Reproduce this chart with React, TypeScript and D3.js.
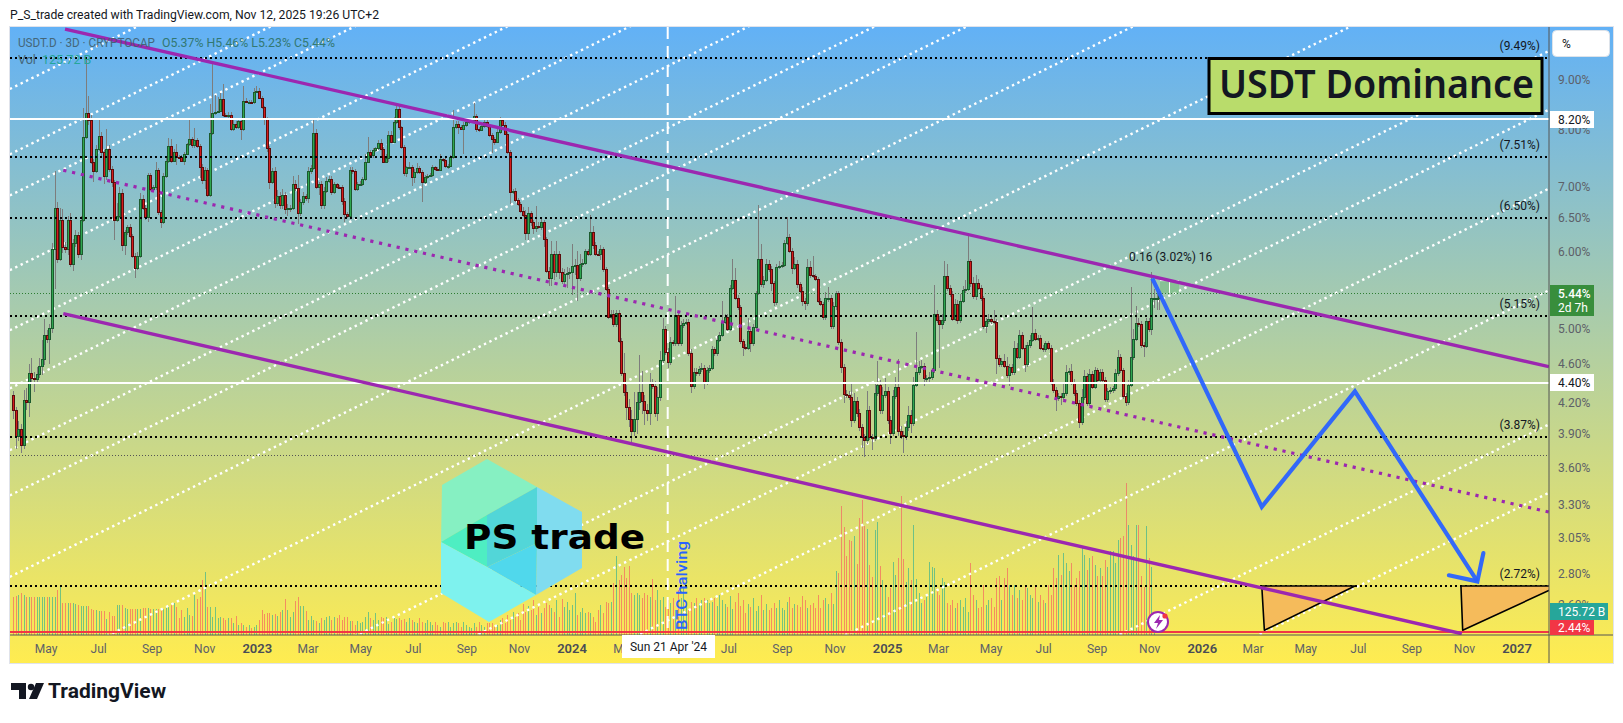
import React from "react";
import * as d3 from "d3";

const lastBarDate = "2025-11-12";
const firstOpen = 4.27;
const closes = [
4.12,3.88,3.94,3.80,4.22,4.20,4.50,4.45,4.44,4.49,
4.58,4.65,4.92,4.88,5.01,6.04,6.65,5.90,6.47,6.06,
6.03,6.47,5.83,6.12,6.24,5.96,6.47,7.87,8.32,8.18,
7.42,7.26,7.64,7.89,7.59,7.18,7.64,7.30,7.07,6.47,
6.53,6.89,6.09,6.28,6.35,6.22,5.94,5.77,5.94,6.79,
6.65,6.51,7.19,6.96,6.98,7.27,6.58,6.44,7.18,7.44,
7.70,7.44,7.60,7.51,7.50,7.44,7.56,7.73,7.82,7.71,
7.81,7.70,7.32,7.10,7.28,6.86,7.94,8.32,8.35,8.37,
8.61,8.28,8.27,8.29,8.01,8.12,8.05,8.16,8.01,8.56,
8.55,8.55,8.54,8.75,8.77,8.63,8.44,8.22,7.67,7.07,
7.25,6.73,6.84,6.69,6.85,6.63,6.65,6.65,7.03,6.97,
6.57,6.74,6.84,6.81,7.25,7.31,7.94,6.99,7.04,6.70,
6.93,7.09,7.12,6.91,7.03,6.99,6.98,6.76,6.55,6.53,
7.28,7.25,6.96,7.03,7.04,7.12,7.42,7.59,7.53,7.63,
7.66,7.76,7.64,7.42,7.48,7.90,7.78,8.14,8.41,8.05,
7.68,7.22,7.32,7.33,7.16,7.24,7.31,7.24,7.07,7.15,
7.18,7.19,7.32,7.29,7.28,7.46,7.45,7.35,7.35,7.50,
8.05,8.11,8.06,8.02,8.09,8.14,8.16,8.18,8.27,8.01,
8.00,8.07,8.14,8.07,7.90,7.82,7.78,7.96,8.18,8.10,
7.93,7.59,6.90,6.93,6.77,6.71,6.60,6.54,6.27,6.57,
6.43,6.34,6.37,6.36,6.43,6.18,5.73,5.63,5.97,5.71,
5.97,5.72,5.59,5.69,5.70,5.71,5.80,5.81,5.64,5.83,
5.84,6.00,5.97,6.29,6.09,5.97,5.96,6.03,5.75,5.49,
5.14,5.18,5.05,5.19,4.86,4.50,4.30,4.15,4.04,3.92,
4.04,4.20,4.30,4.21,4.12,4.10,4.39,4.37,4.10,4.25,
4.64,5.00,4.73,4.62,4.84,4.83,5.16,4.83,5.04,5.07,
5.08,4.72,4.37,4.51,4.50,4.54,4.55,4.41,4.53,4.56,
4.76,4.72,4.87,4.93,5.08,5.14,5.00,5.51,5.61,5.38,
5.26,4.85,4.79,4.78,4.97,4.83,5.02,5.44,5.90,5.56,
5.61,5.83,5.76,5.57,5.32,5.79,5.80,5.81,6.12,6.21,
6.01,5.77,5.82,5.55,5.47,5.34,5.31,5.79,5.67,5.66,
5.62,5.34,5.30,5.14,5.37,5.38,5.03,5.27,5.44,4.84,
4.57,4.28,4.27,4.25,4.03,4.21,4.10,3.96,3.87,3.84,
4.12,3.87,3.86,4.29,4.38,4.12,4.27,4.31,4.03,3.91,
4.26,4.36,3.92,3.89,3.88,3.96,4.08,4.00,4.38,4.51,
4.57,4.58,4.45,4.45,4.46,4.53,5.17,5.10,5.05,5.10,
5.66,5.50,5.42,5.12,5.30,5.10,5.34,5.48,5.49,5.87,
5.57,5.40,5.57,5.51,5.37,5.03,5.09,5.12,5.09,5.08,
4.66,4.60,4.63,4.58,4.48,4.57,4.51,4.78,4.68,4.93,
4.78,4.60,4.81,4.87,4.95,4.88,4.89,4.78,4.76,4.83,
4.78,4.41,4.32,4.24,4.26,4.25,4.29,4.51,4.52,4.41,
4.29,4.19,4.01,4.25,4.47,4.19,4.49,4.36,4.53,4.43,
4.51,4.43,4.23,4.31,4.32,4.34,4.50,4.67,4.53,4.26,
4.20,4.38,4.67,4.88,5.07,5.05,4.81,4.80,5.09,4.99,
5.37,5.37,5.37,5.44];
// wick lengths in hundredths of a percentage point
const upWicks = [
4,3,8,5,10,12,10,16,6,8,8,22,20,6,5,8,60,10,18,16,8,6,10,6,8,4,6,55,115,35,
10,4,8,30,6,4,38,8,4,4,20,10,6,4,4,6,4,4,5,10,6,4,4,4,4,14,4,4,4,6,
14,12,4,14,3,3,4,3,36,4,22,4,3,6,4,3,56,106,33,28,12,30,5,6,6,6,4,5,6,32,
6,4,4,8,10,6,4,3,3,3,6,8,10,6,11,6,6,4,15,8,22,6,6,4,8,6,25,8,3,5,
6,6,5,6,4,3,3,4,5,3,4,4,4,4,4,4,14,28,4,4,3,5,6,4,8,8,8,10,12,6,
3,3,3,8,4,5,8,4,4,4,3,3,4,3,3,10,3,3,3,4,34,6,5,4,6,3,3,3,26,4,
4,4,4,4,4,4,4,5,6,4,4,3,3,3,4,4,3,6,8,10,3,4,31,6,6,4,3,6,18,4,
18,4,5,6,8,6,31,9,19,14,6,4,3,25,8,4,3,6,3,3,3,4,4,4,3,3,22,8,8,8,
26,10,40,22,6,6,11,5,5,10,10,13,3,4,6,3,24,4,5,4,3,3,4,5,4,4,6,4,4,3,
4,3,4,3,26,3,4,3,28,16,3,3,3,3,16,3,3,3,79,20,5,6,5,4,3,3,6,4,5,30,
4,4,10,6,3,5,3,11,8,27,3,3,3,3,8,14,3,5,3,3,4,3,4,4,14,8,4,3,3,3,
19,4,3,10,25,5,8,14,5,4,6,10,29,5,3,6,8,4,8,45,6,6,3,3,5,3,37,5,5,8,
20,17,4,4,6,5,8,5,12,40,3,8,10,5,3,3,4,5,3,14,3,4,3,8,10,3,3,8,5,5,
3,3,3,5,31,5,3,3,3,3,3,3,3,3,3,3,10,8,4,8,3,3,3,8,6,3,5,3,4,3,
3,3,3,3,3,3,4,8,4,3,3,5,85,12,20,6,4,3,4,4,35,12,10,2];
const downWicks = [
8,12,5,7,4,8,14,5,14,4,4,10,6,5,28,6,55,6,4,8,5,8,4,10,6,5,8,4,4,8,
4,19,4,3,8,14,8,6,8,30,4,3,8,14,4,3,3,14,3,3,3,5,8,3,5,4,4,9,4,4,
4,4,3,14,3,3,8,3,3,5,4,3,18,6,14,4,3,3,3,3,3,3,3,4,4,3,3,3,20,3,
3,3,3,3,3,3,3,12,8,12,4,8,5,6,6,8,10,6,3,5,17,4,4,5,8,4,3,4,14,6,
6,4,3,5,3,3,3,6,12,3,3,4,4,3,3,3,3,3,5,4,3,3,13,3,3,6,3,3,3,6,
3,4,6,3,16,10,3,3,32,3,3,3,3,3,3,3,3,4,5,3,3,3,14,3,46,3,3,3,3,6,
4,3,3,3,3,25,6,3,3,3,3,3,18,3,3,3,3,3,10,10,5,8,6,3,4,12,3,10,10,10,
6,10,4,7,18,8,30,12,30,5,4,3,3,3,6,4,3,8,3,3,3,3,3,3,3,3,4,12,8,12,
4,14,8,12,14,8,12,4,4,8,4,3,3,6,3,3,3,3,3,3,3,3,8,4,3,3,3,8,3,3,
3,3,3,3,3,3,3,3,3,3,3,3,10,3,3,10,3,3,3,4,6,3,4,10,5,3,3,3,3,3,
3,8,3,4,3,6,8,3,3,3,3,3,3,4,4,5,4,3,4,3,7,9,3,3,7,3,4,4,10,15,
3,3,11,3,3,3,3,3,4,10,3,3,4,4,15,4,4,9,3,3,3,3,8,5,4,3,3,3,50,5,
3,4,3,3,3,4,3,3,4,3,5,4,5,3,3,3,8,3,3,3,17,3,3,3,3,11,3,3,3,3,
3,9,3,3,3,3,3,3,3,3,3,3,3,13,3,8,3,3,3,3,3,3,6,3,3,3,3,3,3,3,
3,3,3,3,3,3,3,3,3,3,4,3,3,3,3,3,4,12,3,3,6,12,14,14];
// volume in billions
const volumes = [
209,215,218,228,218,209,209,206,206,206,206,206,206,206,206,206,206,246,273,177,
177,173,173,173,169,164,160,160,160,160,142,136,136,133,133,133,87,127,104,104,
164,164,164,146,140,140,142,142,142,142,146,146,146,142,142,142,142,142,142,146,
155,164,173,155,91,136,100,146,109,104,218,195,209,297,342,155,155,96,155,91,
100,91,82,91,91,67,104,55,64,55,42,55,36,42,55,82,136,115,118,122,
109,115,104,127,136,198,136,100,127,185,209,160,160,133,82,104,82,75,64,91,
80,100,104,82,100,91,109,82,100,100,75,75,55,75,64,73,100,127,90,80,
120,80,100,91,100,60,70,95,85,91,80,85,73,91,82,73,64,91,73,64,82,
73,55,73,55,45,73,64,73,45,64,73,64,45,73,55,45,36,64,45,73,55,45,64,64,
64,45,55,82,91,64,109,82,127,100,118,82,169,127,160,136,191,109,155,118,146,
173,164,149,127,191,100,195,155,182,136,164,227,109,127,146,118,127,118,100,73,136,164,118,
182,173,182,282,431,300,328,373,309,377,
227,218,227,218,200,227,218,209,306,191,246,191,209,155,191,173,200,136,246,200,255,173,136,182,173,200,173,191,200,191,173,
180,200,160,220,190,170,150,210,140,180,230,160,190,120,170,150,200,130,160,
218,136,169,136,146,173,146,191,146,136,182,209,146,169,164,155,213,191,146,164,173,146,218,146,191,200,169,228,169,
346,337,704,588,431,519,510,541,388,637,737,592,577,382,
315,570,613,377,300,273,209,255,400,328,422,759,415,291,364,300,601,304,228,173,
191,218,400,369,364,237,218,309,291,173,164,191,146,173,191,155,200,127,391,218,
191,146,155,273,164,191,200,155,309,319,191,309,364,273,218,273,200,246,191,273,
255,218,200,264,182,218,191,173,273,218,364,309,437,328,446,391,349,391,273,309,
349,473,437,355,419,428,382,319,364,319,410,373,455,455,391,519,528,541,
828,601,491,428,601,601,320,260,595,419,373,125.72];

const priceTicks = [9, 8, 7, 6.5, 6, 5, 4.6, 4.2, 3.9, 3.6, 3.3, 3.05, 2.8, 2.6];
const monthTicks = [
  ["2022-05-01","May"],["2022-07-01","Jul"],["2022-09-01","Sep"],["2022-11-01","Nov"],["2023-01-01","2023"],
  ["2023-03-01","Mar"],["2023-05-01","May"],["2023-07-01","Jul"],["2023-09-01","Sep"],["2023-11-01","Nov"],["2024-01-01","2024"],
  ["2024-03-01","Mar"],["2024-07-01","Jul"],["2024-09-01","Sep"],["2024-11-01","Nov"],["2025-01-01","2025"],
  ["2025-03-01","Mar"],["2025-05-01","May"],["2025-07-01","Jul"],["2025-09-01","Sep"],["2025-11-01","Nov"],["2026-01-01","2026"],
  ["2026-03-01","Mar"],["2026-05-01","May"],["2026-07-01","Jul"],["2026-09-01","Sep"],["2026-11-01","Nov"],["2027-01-01","2027"],
];
const dottedLevels = [9.49, 7.51, 6.5, 5.15, 3.87, 2.72];
const solidLevels = [8.2, 4.4];
const supportLevel = 2.44;
const priceLines = [5.44, 3.71];
const upperChannel = [["2022-05-23", 10.15], ["2027-02-07", 4.57]];
const middleChannel = [["2022-05-21", 7.27], ["2027-02-07", 3.24]];
const lowerChannel = [["2022-05-21", 5.18], ["2026-10-29", 2.43]];
const forecastPath = [["2025-11-04", 5.63], ["2026-03-11", 3.28], ["2026-06-27", 4.31], ["2026-11-16", 2.75]];
const arrowHead = [["2026-10-14", 2.79], ["2026-11-16", 2.75], ["2026-11-23", 2.94]];
const triangleA = [["2026-03-11", 2.72], ["2026-03-14", 2.45], ["2026-06-27", 2.72]];
const triangleB = [["2026-10-28", 2.72], ["2026-10-30", 2.45], ["2027-02-18", 2.72]];
const diagonalStartDate = "2022-03-20";
const diagonalEndDate = "2027-02-07";
const diagonalStartPrices = [8.81, 7.55, 6.85, 5.74, 4.98, 4.34, 3.75, 3.37, 2.78, 2.16, 1.62, 1.41, 1.17, 0.92, 0.67, 0.57];
const diagonalRise = 5.95;
const halvingDate = "2024-04-21";
const measureBox = [["2025-11-13", 5.6], ["2025-12-05", 5.44]];

const D = (s: string) => new Date(s + "T00:00:00Z");
const L = 10, R = 1549, T = 27, B = 635, PANEL_B = 663, W = 1623, H = 723;
const x = d3.scaleUtc().domain([D("2024-01-01"), D("2027-01-01")]).range([572, 1517]);
const y = d3.scaleLog().domain([2.44, 9]).range([632, 80]);
const vy = d3.scaleLinear().domain([0, 828]).range([B, 483]);
const pt = (p: any) => [x(D(p[0])), y(p[1])] as [number, number];
const lineGen = d3.line();
const path = (pts: any[]) => lineGen(pts.map(pt)) as string;
const polygon = (pts: any[]) => (lineGen(pts.map(pt)) as string) + "Z";

const N = closes.length;
const bars = closes.map((c, i) => {
  const o = i === 0 ? firstOpen : closes[i - 1];
  const date = new Date(D(lastBarDate).getTime() - (N - 1 - i) * 3 * 864e5);
  return { date, px: Math.round(x(date)), o, c, h: Math.max(o, c) + (upWicks[i] ?? 3) / 100, l: Math.min(o, c) - (downWicks[i] ?? 3) / 100, v: volumes[i] ?? 0 };
});

const font = "Roboto, 'Noto Sans', sans-serif";
const axisLabel = "#5d6068";
const crisp = { shapeRendering: "crispEdges" } as any;

const BoxLabel = ({ yy, h, w = 44, fill, color, text }: any) => (
  <g>
    <rect x={R + 1} y={yy} width={w} height={h} fill={fill} />
    <text x={R + 9} y={yy + h / 2 + 4.3} fontSize={12} fill={color} fontFamily={font}>{text}</text>
  </g>
);

export default function App() {
  return (
    <svg width={W} height={H} viewBox={`0 0 ${W} ${H}`} style={{ position: "absolute", left: 0, top: 0, background: "#fff" }}>
      <defs>
        <linearGradient id="bg" x1="0" y1="0" x2="0" y2="1">
          <stop offset="0" stopColor="#62b1f6" />
          <stop offset="1" stopColor="#ffec50" />
        </linearGradient>
        <clipPath id="plot"><rect x={L} y={T} width={R - L} height={B - T} /></clipPath>
      </defs>
      <text x={10} y={19} fontSize={12.5} fill="#131722" fontFamily={font} textLength={369} lengthAdjust="spacingAndGlyphs">P_S_trade created with TradingView.com, Nov 12, 2025 19:26 UTC+2</text>
      <rect x={9.5} y={26.5} width={1604} height={637} fill="url(#bg)" stroke="#e0e3eb" />

      <g clipPath="url(#plot)">
        {/* volume */}
        {bars.map((b, i) => (
          <rect key={i} {...crisp} x={b.px} y={vy(b.v)} width={1} height={B - vy(b.v)}
            fill={b.c >= b.o ? "#22ab94" : "#f7525f"} opacity={0.6} />
        ))}
        {/* diagonal rays */}
        {diagonalStartPrices.map((p, i) => (
          <path key={i} d={path([[diagonalStartDate, p], [diagonalEndDate, p * diagonalRise]])} fill="none"
            stroke="#fff" strokeWidth={2.4} strokeDasharray="2.4 3.6" />
        ))}
        {/* thin price lines */}
        {priceLines.map(p => (
          <line key={p} {...crisp} x1={L} x2={R} y1={Math.round(y(p)) + 0.5} y2={Math.round(y(p)) + 0.5} stroke={p === 5.44 ? "#2e7d32" : "#555"} strokeWidth={1} strokeDasharray="1 2" />
        ))}
        {/* halving */}
        <line x1={x(D(halvingDate))} x2={x(D(halvingDate))} y1={T} y2={B} stroke="#fff" strokeWidth={2} strokeDasharray="12 7" />
        {/* candles */}
        {bars.map((b, i) => (
          <rect key={i} {...crisp} x={b.px} width={1} y={y(b.h)} height={y(b.l) - y(b.h)} fill="#7d7d7d" />
        ))}
        {bars.map((b, i) => {
          const up = b.c >= b.o;
          const t = Math.round(y(Math.max(b.o, b.c))), bt = Math.round(y(Math.min(b.o, b.c)));
          const h = Math.max(bt - t, 1);
          return (
            <g key={i} {...crisp}>
              <rect x={b.px - 1} y={t} width={3} height={h + 1} fill={up ? "#1c5a2e" : "#5a0d0d"} />
              {h > 1 && <rect x={b.px} y={t + 1} width={1} height={h - 1} fill={up ? "#2fa650" : "#d41c1c"} />}
            </g>
          );
        })}
        {/* horizontal levels */}
        {solidLevels.map(p => <line key={p} {...crisp} x1={L} x2={R} y1={Math.round(y(p))} y2={Math.round(y(p))} stroke="#fff" strokeWidth={2} />)}
        {dottedLevels.map(p => <line key={p} {...crisp} x1={L} x2={R} y1={Math.round(y(p))} y2={Math.round(y(p))} stroke="#000" strokeWidth={2} strokeDasharray="2 3" />)}
        <line {...crisp} x1={L} x2={R} y1={Math.round(y(supportLevel))} y2={Math.round(y(supportLevel))} stroke="#f23645" strokeWidth={2} />
        {/* measure tool */}
        <rect x={pt(measureBox[0])[0]} y={pt(measureBox[0])[1]} width={pt(measureBox[1])[0] - pt(measureBox[0])[0]}
          height={pt(measureBox[1])[1] - pt(measureBox[0])[1]} fill="#4caf50" opacity={0.3} />
        <line x1={pt(measureBox[0])[0]} x2={pt(measureBox[1])[0]} y1={pt(measureBox[0])[1]} y2={pt(measureBox[0])[1]} stroke="#fff" strokeWidth={1} />
        <line x1={(pt(measureBox[0])[0] + pt(measureBox[1])[0]) / 2} x2={(pt(measureBox[0])[0] + pt(measureBox[1])[0]) / 2}
          y1={pt(measureBox[0])[1]} y2={pt(measureBox[1])[1]} stroke="#fff" strokeWidth={1} />
        {/* triangles */}
        <path d={polygon(triangleA)} fill="#f5bb5b" stroke="#000" strokeWidth={1.6} strokeLinejoin="round" />
        <path d={polygon(triangleB)} fill="#f5bb5b" stroke="#000" strokeWidth={1.6} strokeLinejoin="round" />
        {/* channel */}
        <path d={path(upperChannel)} fill="none" stroke="#9c27b0" strokeWidth={3.4} />
        <path d={path(lowerChannel)} fill="none" stroke="#9c27b0" strokeWidth={3.4} />
        <path d={path(middleChannel)} fill="none" stroke="#9c27b0" strokeWidth={3.2} strokeDasharray="3.2 5.8" />
        {/* forecast */}
        <path d={path(forecastPath)} fill="none" stroke="#2962ff" strokeOpacity={0.95} strokeWidth={4.2} strokeLinejoin="miter" />
        <path d={path(arrowHead)} fill="none" stroke="#2962ff" strokeOpacity={0.95} strokeWidth={4.2} strokeLinecap="round" strokeLinejoin="miter" />
      </g>

      {/* logo */}
      <g>
        <polygon points="487,459 537,487 487,515 441,542 442,485" fill="#86f0c2" />
        <polygon points="487,515 487,567 441,542" fill="#4eeec2" />
        <polygon points="537,487 537,543 487,567 487,515" fill="#52d6d8" />
        <polygon points="537,487 582,512 582,568 536,595 537,543" fill="#80dcef" />
        <polygon points="487,567 537,543 536,595" fill="#50d8ec" />
        <polygon points="441,542 487,567 536,595 489,622 441,593" fill="#7ef2ee" />
        <text x={464} y={549} fontFamily="'DejaVu Sans', sans-serif" fontWeight={700} fontSize={33} fill="#000"
          textLength={181} lengthAdjust="spacingAndGlyphs">PS trade</text>
      </g>
      <text transform={`translate(687,630) rotate(-90)`} fontSize={15} fill="#2962ff" fontFamily={font} fontWeight={500}
        textLength={89} lengthAdjust="spacingAndGlyphs">BTC halving</text>

      {/* level labels */}
      {dottedLevels.map(p => (
        <text key={p} x={1540} y={y(p) - 8} textAnchor="end" fontSize={12} fill="#131722" fontFamily={font}>({p.toFixed(2)}%)</text>
      ))}
      <text x={1129} y={261} fontSize={12} fill="#131722" fontFamily={font}>0.16 (3.02%) 16</text>

      {/* legend */}
      <text x={18} y={47} fontSize={12.5} fontFamily={font} fill="#3f5a66" opacity={0.85} textLength={137} lengthAdjust="spacingAndGlyphs">USDT.D · 3D · CRYPTOCAP</text>
      <text x={162} y={47} fontSize={12.5} fontFamily={font} fill="#2a6f5c" opacity={0.85} textLength={173} lengthAdjust="spacingAndGlyphs">O5.37%  H5.46%  L5.23%  C5.44%</text>
      <text x={18} y={64} fontSize={12.5} fontFamily={font} fill="#3f5a66" opacity={0.85}>Vol</text>
      <text x={42} y={64} fontSize={12.5} fontFamily={font} fill="#26a69a">125.72 B</text>

      {/* title */}
      <rect x={1209} y={58.5} width={333} height={55} fill="#b9dc6b" stroke="#000" strokeWidth={3} />
      <text x={1219} y={98} fontSize={40} fontWeight={600} fill="#131722" fontFamily="'Noto Sans', sans-serif"
        textLength={315} lengthAdjust="spacingAndGlyphs">USDT Dominance</text>

      {/* price axis */}
      <line x1={R} x2={R} y1={T} y2={PANEL_B} stroke="#555" strokeWidth={1} />
      <line x1={L} x2={1613} y1={B} y2={B} stroke="#555" strokeWidth={1} />
      {priceTicks.map(p => (
        <text key={p} x={1558} y={y(p) + 4.3} fontSize={12} fill={axisLabel} fontFamily={font}>{p.toFixed(2)}%</text>
      ))}
      <rect x={1552.5} y={30.5} width={57} height={26} rx={4} fill="#fff" stroke="#dde3ea" />
      <text x={1562} y={48} fontSize={12} fill="#131722" fontFamily={font}>%</text>
      <BoxLabel yy={111} h={17} fill="#fff" color="#131722" text="8.20%" />
      <BoxLabel yy={374} h={17} fill="#fff" color="#131722" text="4.40%" />
      <rect x={R + 1} y={285} width={44} height={31} fill="#388e3c" />
      <text x={R + 9} y={298} fontSize={12} fontWeight={500} fill="#fff" fontFamily={font}>5.44%</text>
      <text x={R + 9} y={312} fontSize={12} fill="#fff" fontFamily={font}>2d 7h</text>
      <BoxLabel yy={603} h={17} w={58} fill="#26a69a" color="#fff" text="125.72 B" />
      <BoxLabel yy={620} h={15} fill="#f23645" color="#fff" text="2.44%" />

      {/* time axis */}
      {monthTicks.map(([d, t]) => {
        const yr = /^\d/.test(t);
        return <text key={d} x={x(D(d))} y={653} textAnchor="middle" fontSize={yr ? 13 : 12} fontWeight={yr ? 600 : 400}
          fill={yr ? "#4a4d55" : axisLabel} fontFamily={font}>{t}</text>;
      })}
      <rect x={622} y={635} width={93} height={23} fill="#fff" />
      <text x={668.5} y={651} textAnchor="middle" fontSize={12} fill="#131722" fontFamily={font}>Sun 21 Apr '24</text>

      {/* alert icon */}
      <circle cx={1158} cy={622} r={10} fill="#fff" stroke="#9c27b0" strokeWidth={2} />
      <path d="M1160 615 L1154 623 L1158 623 L1156 629 L1163 620 L1159 620 Z" fill="#9c27b0" />
      <circle cx={1165} cy={616} r={2.6} fill="#f23645" />

      {/* footer logo */}
      <g fill="#131722">
        <path d="M11 683 H26 V699 H19 V690 H11 Z" />
        <circle cx={31} cy={687} r={3.2} />
        <path d="M36 683 H44 L37 699 H29 Z" />
      </g>
      <text x={48} y={698} fontSize={21} fontWeight={700} fill="#131722" fontFamily={font}>TradingView</text>
    </svg>
  );
}
